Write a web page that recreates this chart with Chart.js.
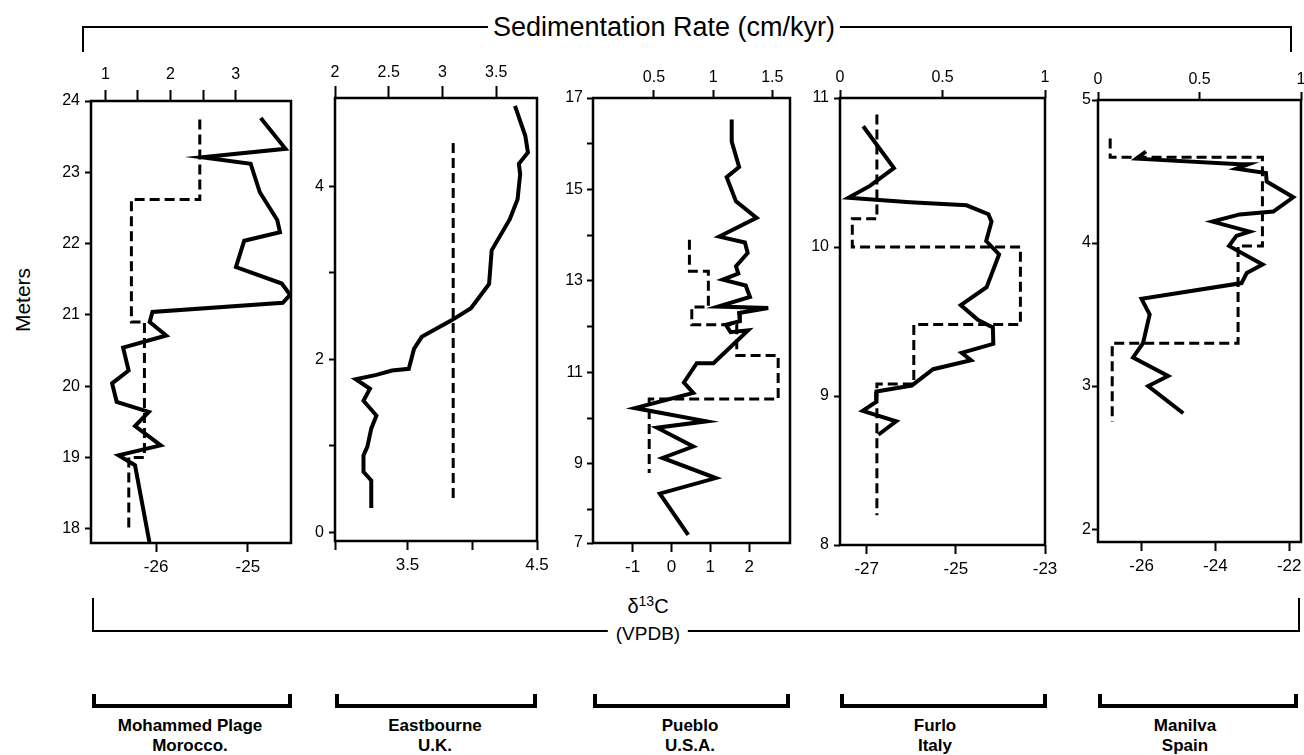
<!DOCTYPE html>
<html>
<head>
<meta charset="utf-8">
<script src="https://cdn.jsdelivr.net/npm/chart.js@4.4.1/dist/chart.umd.min.js"></script>
<style>
  body { margin: 0; background: #fff; }
  #wrap { position: relative; width: 1304px; height: 755px; overflow: hidden; background: #fff;
          font-family: "Liberation Sans", Arial, sans-serif; color: #000; }
  canvas { position: absolute; }
  .txt { position: absolute; transform: translate(-50%, -50%); white-space: nowrap; line-height: 1; background: #fff; }
  .ln { position: absolute; background: #000; }
  .site { position: absolute; transform: translateX(-50%); text-align: center; font-weight: bold;
          font-size: 17px; line-height: 20px; white-space: nowrap; }
</style>
</head>
<body>
<div id="wrap">
  <!-- top bracket -->
  <div class="ln" style="left:82px;top:26px;width:1210px;height:2px"></div>
  <div class="ln" style="left:82px;top:26px;width:2px;height:26px"></div>
  <div class="ln" style="left:1290px;top:26px;width:2px;height:26px"></div>
  <div class="txt" style="left:664px;top:27px;font-size:27px;padding:0 5px">Sedimentation Rate (cm/kyr)</div>

  <!-- bottom bracket -->
  <div class="ln" style="left:92px;top:630px;width:1208px;height:2px"></div>
  <div class="ln" style="left:92px;top:598px;width:2px;height:34px"></div>
  <div class="ln" style="left:1298px;top:598px;width:2px;height:34px"></div>
  <div class="txt" style="left:648px;top:605px;font-size:20px">δ<sup style="font-size:14px">13</sup>C</div>
  <div class="txt" style="left:648px;top:633px;font-size:19px;padding:0 8px">(VPDB)</div>

  <div class="txt" style="left:22px;top:300px;font-size:21px;transform:translate(-50%,-50%) rotate(-90deg);background:none">Meters</div>

  <div id="sites"></div>
</div>
<script>
// Mohammed Plage, Morocco
const mpC13 = [-24.86, -24.59, -25.50, -24.97, -24.87, -24.68, -24.65, -25.04, -25.13, -24.63, -24.54, -24.62, -26.04,
               -26.07, -25.89, -26.36, -26.30, -26.48, -26.43, -26.08, -26.23, -25.95, -26.41, -26.23, -26.07];
const mpC13Depth = [23.76, 23.33, 23.21, 23.12, 22.72, 22.33, 22.16, 22.04, 21.67, 21.44, 21.28, 21.17, 21.04,
                    20.90, 20.71, 20.54, 20.22, 20.04, 19.78, 19.64, 19.44, 19.17, 19.03, 18.89, 17.79];
const mpRate = [2.45, 2.45, 1.40, 1.40, 1.60, 1.60, 1.36, 1.36];
const mpRateDepth = [23.74, 22.62, 22.62, 20.90, 20.90, 19.00, 19.00, 17.98];

// Eastbourne, U.K.
const ebC13 = [4.33, 4.41, 4.43, 4.36, 4.37, 4.35, 4.29, 4.15, 4.13, 3.99, 3.84, 3.61, 3.55, 3.51, 3.38, 3.26,
               3.10, 3.21, 3.16, 3.26, 3.22, 3.19, 3.16, 3.16, 3.22, 3.22];
const ebC13Depth = [4.93, 4.58, 4.39, 4.26, 4.14, 3.85, 3.62, 3.26, 2.87, 2.59, 2.45, 2.26, 2.12, 1.89, 1.87, 1.82,
                    1.77, 1.66, 1.52, 1.35, 1.20, 0.99, 0.89, 0.70, 0.60, 0.28];
const ebRate = [3.10, 3.10];
const ebRateDepth = [4.50, 0.39];

// Pueblo, U.S.A.
const pbC13 = [1.55, 1.55, 1.74, 1.42, 1.66, 2.19, 1.23, 1.89, 1.96, 1.66, 1.72, 1.32, 1.91, 2.02, 1.20, 2.49, 1.74,
               1.76, 1.40, 1.52, 1.97, 1.08, 0.65, 0.32, 0.56, -0.94, 0.90, -0.37, 0.56, -0.23, 1.14, -0.30, 0.43];
const pbC13Depth = [16.53, 16.05, 15.49, 15.27, 14.74, 14.38, 13.97, 13.84, 13.61, 13.32, 13.16, 13.03, 12.90, 12.65,
                    12.44, 12.41, 12.30, 12.12, 12.04, 11.88, 11.92, 11.20, 11.20, 10.78, 10.55, 10.22, 9.93, 9.79,
                    9.38, 9.13, 8.69, 8.35, 7.45];
const pbRate = [0.80, 0.80, 0.96, 0.96, 0.82, 0.82, 1.20, 1.20, 1.55, 1.55, 0.46, 0.46];
const pbRateDepth = [13.90, 13.21, 13.21, 12.43, 12.43, 12.04, 12.04, 11.37, 11.37, 10.42, 10.42, 8.80];

// Furlo, Italy
const fuC13 = [-27.08, -26.39, -26.93, -27.41, -26.03, -24.76, -24.27, -24.20, -24.32, -24.03, -24.31, -24.89,
               -24.50, -24.17, -24.16, -24.87, -24.66, -25.51, -25.99, -26.78, -26.79, -27.09, -26.34, -26.74];
const fuC13Depth = [10.81, 10.53, 10.41, 10.33, 10.30, 10.28, 10.22, 10.17, 10.04, 9.95, 9.73, 9.61, 9.51, 9.46,
                    9.35, 9.29, 9.24, 9.18, 9.07, 9.03, 8.96, 8.90, 8.83, 8.74];
const fuRate = [0.18, 0.18, 0.06, 0.06, 0.88, 0.88, 0.36, 0.36, 0.18, 0.18];
const fuRateDepth = [10.89, 10.19, 10.19, 10.00, 10.00, 9.48, 9.48, 9.08, 9.08, 8.20];

// Manilva, Spain
const maC13 = [-25.88, -26.14, -23.34, -23.11, -23.43, -22.63, -22.61, -21.89, -22.43, -23.34, -24.08, -23.07,
               -23.43, -23.63, -22.72, -23.15, -23.29, -26.00, -25.78, -25.96, -26.23, -25.28, -25.82, -24.87];
const maC13Depth = [4.64, 4.59, 4.55, 4.55, 4.52, 4.49, 4.43, 4.32, 4.22, 4.20, 4.15, 4.08, 4.05, 3.98, 3.85,
                    3.79, 3.72, 3.61, 3.50, 3.30, 3.20, 3.07, 3.00, 2.81];
const maRate = [0.06, 0.06, 0.81, 0.81, 0.69, 0.69, 0.07, 0.07];
const maRateDepth = [4.73, 4.60, 4.60, 3.98, 3.98, 3.30, 3.30, 2.75];

// tick values and their labels
const mpDepthTicks = [18, 19, 20, 21, 22, 23, 24];
const mpDepthLabels = ['18', '19', '20', '21', '22', '23', '24'];
const mpC13Ticks = [-26, -25];
const mpC13Labels = ['-26', '-25'];
const mpRateTicks = [1, 1.5, 2, 2.5, 3];
const mpRateLabels = ['1', '', '2', '', '3'];

const ebDepthTicks = [0, 1, 2, 3, 4];
const ebDepthLabels = ['0', '', '2', '', '4'];
const ebC13Ticks = [2.94, 3.5, 4, 4.5];
const ebC13Labels = ['', '3.5', '', '4.5'];
const ebRateTicks = [2, 2.5, 3, 3.5];
const ebRateLabels = ['2', '2.5', '3', '3.5'];

const pbDepthTicks = [7.27, 8, 9, 10, 11, 12, 13, 14, 15, 16, 17];
const pbDepthLabels = ['7', '', '9', '', '11', '', '13', '', '15', '', '17'];
const pbC13Ticks = [-1, 0, 1, 2];
const pbC13Labels = ['-1', '0', '1', '2'];
const pbRateTicks = [0.5, 1, 1.5];
const pbRateLabels = ['0.5', '1', '1.5'];

const fuDepthTicks = [8, 9, 10, 11];
const fuDepthLabels = ['8', '9', '10', '11'];
const fuC13Ticks = [-27, -25, -23];
const fuC13Labels = ['-27', '-25', '-23'];
const fuRateTicks = [0, 0.5, 1];
const fuRateLabels = ['0', '0.5', '1'];

const maDepthTicks = [2, 3, 4, 5];
const maDepthLabels = ['2', '3', '4', '5'];
const maC13Ticks = [-26, -24, -22];
const maC13Labels = ['-26', '-24', '-22'];
const maRateTicks = [0, 0.5, 1];
const maRateLabels = ['0', '0.5', '1'];

const siteNames = ['Mohammed Plage', 'Eastbourne', 'Pueblo', 'Furlo', 'Manilva'];
const siteCountries = ['Morocco.', 'U.K.', 'U.S.A.', 'Italy', 'Spain'];

// panel boxes (pixel layout) and axis ranges
const panels = [
  { L: 91, R: 291, T: 101, B: 543, padR: 20, yPad: 5, topLen: 11, topPad: 6,
    c13: mpC13, c13Depth: mpC13Depth, rate: mpRate, rateDepth: mpRateDepth,
    y: [17.8, 24, mpDepthTicks, mpDepthLabels], x: [-26.71, -24.53, mpC13Ticks, mpC13Labels],
    x2: [0.78, 3.85, mpRateTicks, mpRateLabels] },
  { L: 335, R: 537, T: 98, B: 541, padR: 20, yPad: 5, topLen: 12, topPad: 4,
    c13: ebC13, c13Depth: ebC13Depth, rate: ebRate, rateDepth: ebRateDepth,
    y: [-0.1, 5.02, ebDepthTicks, ebDepthLabels], x: [2.94, 4.5, ebC13Ticks, ebC13Labels],
    x2: [2.0, 3.88, ebRateTicks, ebRateLabels] },
  { L: 593, R: 790, T: 98, B: 543, padR: 20, yPad: 4, topLen: 8, topPad: 3,
    c13: pbC13, c13Depth: pbC13Depth, rate: pbRate, rateDepth: pbRateDepth,
    y: [7.27, 17, pbDepthTicks, pbDepthLabels], x: [-2.02, 3.05, pbC13Ticks, pbC13Labels],
    x2: [-0.015, 1.65, pbRateTicks, pbRateLabels] },
  { L: 840, R: 1045, T: 98, B: 545, padR: 20, yPad: 5, topLen: 8, topPad: 3,
    c13: fuC13, c13Depth: fuC13Depth, rate: fuRate, rateDepth: fuRateDepth,
    y: [8, 11, fuDepthTicks, fuDepthLabels], x: [-27.6, -23, fuC13Ticks, fuC13Labels],
    x2: [0, 1, fuRateTicks, fuRateLabels] },
  { L: 1098, R: 1301, T: 100, B: 542, padR: 3, yPad: 1, topLen: 8, topPad: 3,
    c13: maC13, c13Depth: maC13Depth, rate: maRate, rateDepth: maRateDepth,
    y: [1.91, 5, maDepthTicks, maDepthLabels], x: [-27.18, -21.68, maC13Ticks, maC13Labels],
    x2: [0, 1, maRateTicks, maRateLabels] }
];
const siteBrackets = [[92, 292], [335, 537], [593, 790], [840, 1047], [1098, 1298]];
const siteCentres = [190, 435, 690, 935, 1185];

const FAMILY = '"Liberation Sans", Arial, sans-serif';
const CANVAS_TOP = 40, CANVAS_BOTTOM = 600, Y_W = 50;

function makeScale(pos, spec, tickLen, pad, size, fontSize) {
  const [min, max, ticks, labels] = spec;
  return {
    type: 'linear', position: pos, min: min, max: max,
    afterBuildTicks: s => { s.ticks = ticks.map(v => ({ value: v })); },
    afterFit: s => {
      if (pos === 'left') s.width = size; else s.height = size;
      s.paddingLeft = s.paddingRight = s.paddingTop = s.paddingBottom = 0;
    },
    ticks: { autoSkip: false, maxRotation: 0, minRotation: 0, color: '#000',
             font: { family: FAMILY, size: fontSize }, padding: pad,
             callback: (v, i) => labels[i] },
    grid: { drawOnChartArea: false, drawTicks: true, tickLength: tickLen, tickWidth: 2, tickColor: '#000' },
    border: { display: false }
  };
}

const frame = {
  id: 'frame',
  afterDatasetsDraw(chart) {
    const a = chart.chartArea, c = chart.ctx;
    c.save();
    c.lineWidth = 2.5;
    c.strokeStyle = '#000';
    c.strokeRect(a.left, a.top, a.right - a.left, a.bottom - a.top);
    c.restore();
  }
};

const pts = (xs, ys) => xs.map((v, i) => ({ x: v, y: ys[i] }));
const wrap = document.getElementById('wrap');

panels.forEach(p => {
  const cv = document.createElement('canvas');
  cv.width = Y_W + (p.R - p.L) + p.padR;
  cv.height = CANVAS_BOTTOM - CANVAS_TOP;
  cv.style.left = (p.L - Y_W) + 'px';
  cv.style.top = CANVAS_TOP + 'px';
  wrap.appendChild(cv);

  new Chart(cv, {
    type: 'scatter',
    data: {
      datasets: [
        { data: pts(p.c13, p.c13Depth), xAxisID: 'x', yAxisID: 'y', showLine: true,
          borderColor: '#000', borderWidth: 4, pointRadius: 0, tension: 0 },
        { data: pts(p.rate, p.rateDepth), xAxisID: 'x2', yAxisID: 'y', showLine: true,
          borderColor: '#000', borderWidth: 3, borderDash: [10, 5], pointRadius: 0, tension: 0 }
      ]
    },
    options: {
      responsive: false, animation: false, devicePixelRatio: 1,
      layout: { padding: { left: 0, right: p.padR, top: 0, bottom: 0 } },
      plugins: { legend: { display: false }, tooltip: { enabled: false } },
      scales: {
        x: makeScale('bottom', p.x, 9, 5, CANVAS_BOTTOM - p.B, 17),
        x2: makeScale('top', p.x2, p.topLen, p.topPad, p.T - CANVAS_TOP, 16),
        y: makeScale('left', p.y, 6, p.yPad, Y_W, 16)
      }
    },
    plugins: [frame]
  });
});

// site brackets and names
const sites = document.getElementById('sites');
siteBrackets.forEach(([a, b], i) => {
  sites.insertAdjacentHTML('beforeend',
    `<div class="ln" style="left:${a}px;top:704px;width:${b - a}px;height:4px"></div>` +
    `<div class="ln" style="left:${a}px;top:694px;width:4px;height:14px"></div>` +
    `<div class="ln" style="left:${b - 4}px;top:694px;width:4px;height:14px"></div>` +
    `<div class="site" style="left:${siteCentres[i]}px;top:716px">${siteNames[i]}<br>${siteCountries[i]}</div>`);
});
</script>
</body>
</html>
